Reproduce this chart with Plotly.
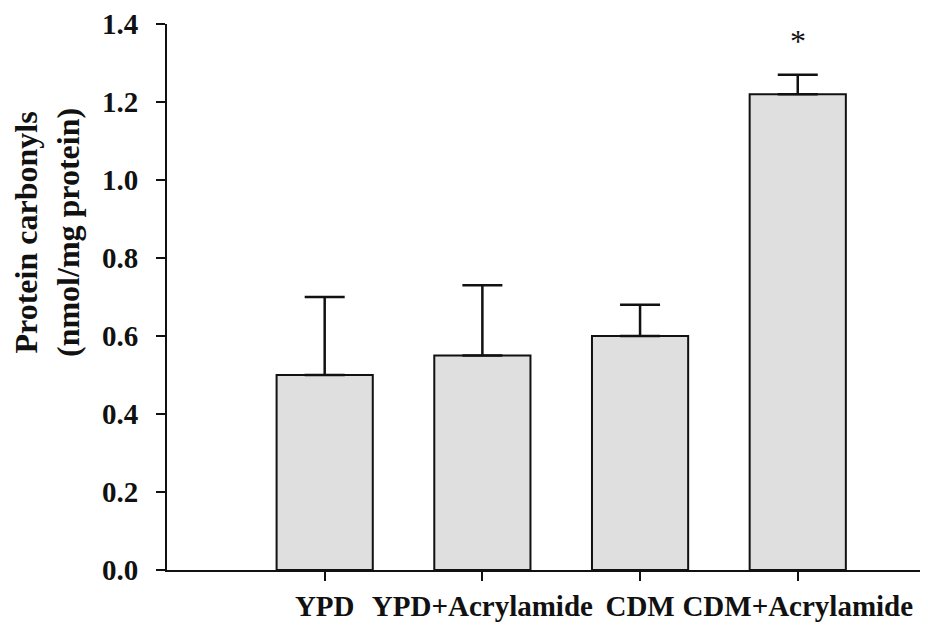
import plotly.graph_objects as go

categories = ["YPD", "YPD+Acrylamide", "CDM", "CDM+Acrylamide"]
values = [0.50, 0.55, 0.60, 1.22]
errors_up = [0.20, 0.18, 0.08, 0.05]
errors_down = [0, 0, 0, 0]
y_ticks = [0.0, 0.2, 0.4, 0.6, 0.8, 1.0, 1.2, 1.4]
y_tick_text = ["0.0", "0.2", "0.4", "0.6", "0.8", "1.0", "1.2", "1.4"]
marks = ["", "", "", "*"]

FONT = "Liberation Serif, Times New Roman, serif"
x_pos = list(range(len(categories)))

# page body has an 8px margin, so the figure is sized to fit the window
W, H = 920, 626
L, T, B = 159, 16, 64
plot_w = W - L
plot_h = H - T - B

fig = go.Figure()
fig.add_trace(go.Bar(
    x=x_pos, y=values, width=0.61,
    marker=dict(color="#dfdfdf", line=dict(color="#111111", width=2)),
    error_y=dict(type="data", symmetric=False, array=errors_up, arrayminus=errors_down,
                 color="#111111", thickness=2.5, width=20),
    showlegend=False,
))

for xi, v, e, m in zip(x_pos, values, errors_up, marks):
    if m:
        fig.add_annotation(x=xi, y=v + e, text=m, showarrow=False, yanchor="bottom",
                           yshift=14, font=dict(family=FONT, size=32, color="#111111"))

fig.add_annotation(xref="paper", yref="paper", x=(39 - L) / plot_w, y=(T + plot_h - 225) / plot_h,
                   text="<b>Protein carbonyls<br>(nmol/mg protein)</b>", textangle=-90,
                   showarrow=False, xanchor="center", yanchor="middle",
                   font=dict(family=FONT, size=32, color="#111111"))

fig.update_layout(
    width=W, height=H,
    margin=dict(l=L, r=0, t=T, b=B),
    paper_bgcolor="white", plot_bgcolor="white",
    font=dict(family=FONT, color="#111111"),
)
fig.update_xaxes(
    range=[-1.0, 3.826], tickmode="array", tickvals=x_pos, ticktext=categories,
    ticks="outside", ticklen=9, tickwidth=2, tickcolor="#111111",
    showline=True, linecolor="#111111", linewidth=2, showgrid=False, zeroline=False,
    automargin=False, ticklabeloverflow="allow",
    tickfont=dict(family=FONT, size=29, color="#111111", weight="bold"),
)
fig.update_yaxes(
    range=[0, 1.4], tickmode="array", tickvals=y_ticks, ticktext=y_tick_text,
    ticks="outside", ticklen=9, tickwidth=2, tickcolor="#111111",
    showline=True, linecolor="#111111", linewidth=2, showgrid=False, zeroline=False,
    ticklabelstandoff=12, automargin=False, ticklabeloverflow="allow",
    tickfont=dict(family=FONT, size=29, color="#111111", weight="bold"),
)

fig.write_html("out.html")
